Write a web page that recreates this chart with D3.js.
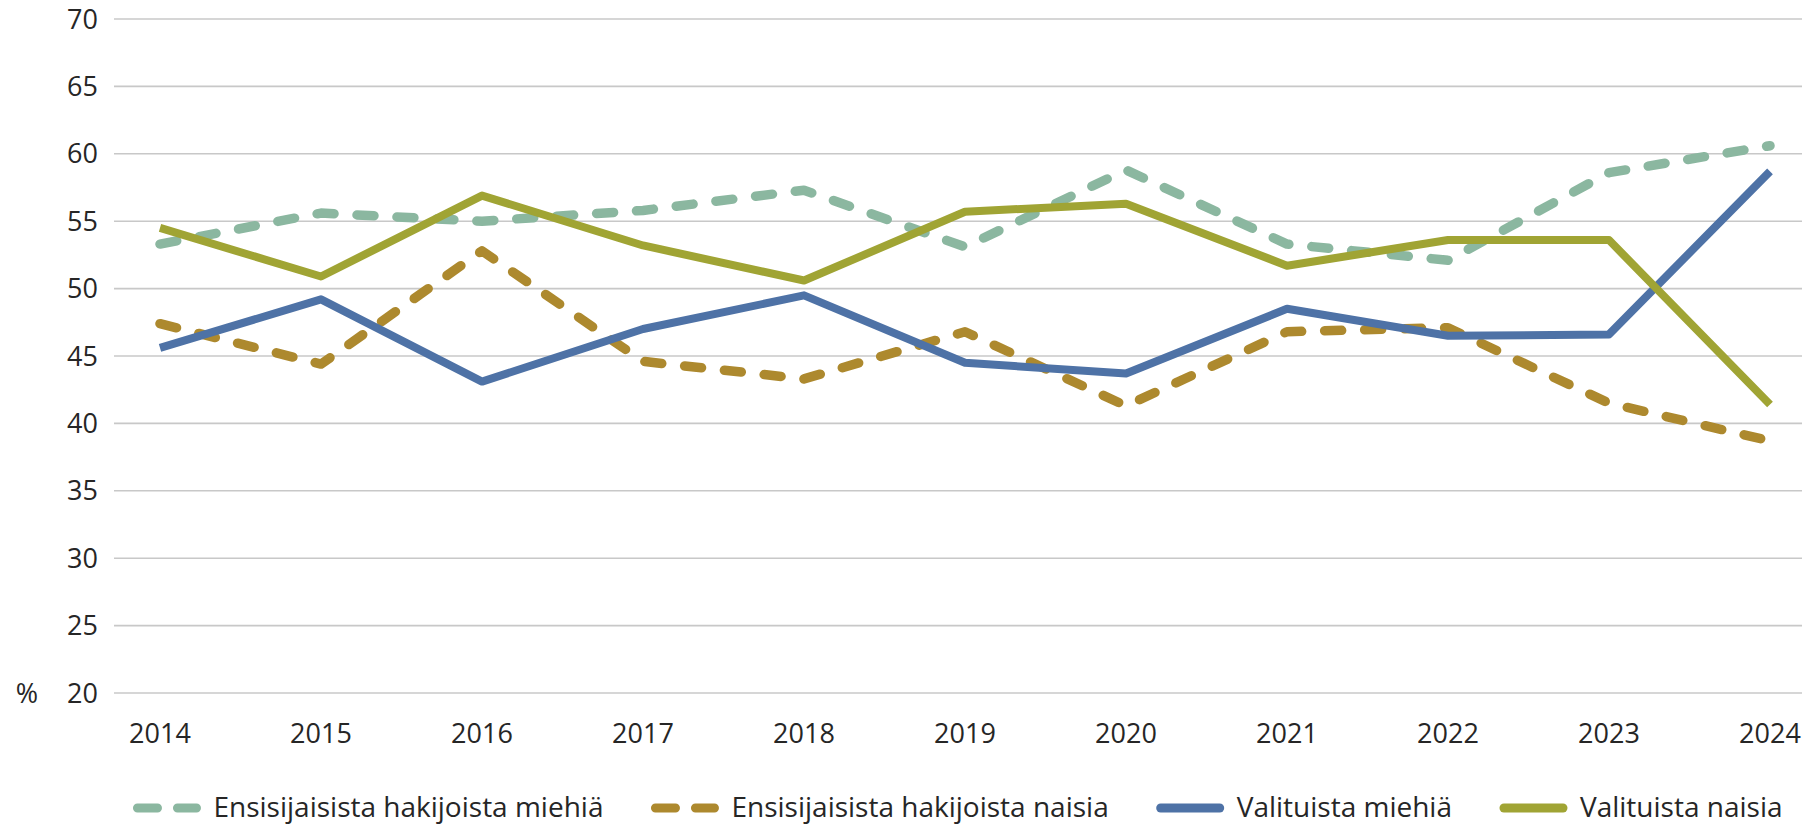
<!DOCTYPE html>
<html>
<head>
<meta charset="utf-8">
<script src="https://cdn.jsdelivr.net/npm/d3@7"></script>
<style>
  body { margin: 0; background: #fff; }
  text { font-family: "Open Sans", sans-serif; fill: #262626; }
</style>
</head>
<body>
<div class="chart"></div>
<script>
const years = ['2014', '2015', '2016', '2017', '2018', '2019', '2020', '2021', '2022', '2023', '2024']
const seriesNames = [
    'Ensisijaisista hakijoista miehiä',
    'Ensisijaisista hakijoista naisia',
    'Valituista miehiä',
    'Valituista naisia'
]
const applicantsMen = [53.3, 55.6, 55.0, 55.8, 57.3, 53.1, 58.8, 53.3, 52.1, 58.6, 60.6]
const applicantsWomen = [47.4, 44.4, 52.8, 44.6, 43.3, 46.8, 41.3, 46.8, 47.1, 41.5, 38.7]
const selectedMen = [45.6, 49.2, 43.1, 47.0, 49.5, 44.5, 43.7, 48.5, 46.5, 46.6, 58.7]
const selectedWomen = [54.5, 50.9, 56.9, 53.2, 50.6, 55.7, 56.3, 51.7, 53.6, 53.6, 41.4]
const yTicks = [20, 25, 30, 35, 40, 45, 50, 55, 60, 65, 70]

const colors = ['#8bb7a0', '#ad892e', '#4e72a6', '#a0a434']
const dashed = [true, true, false, false]
const allValues = [applicantsMen, applicantsWomen, selectedMen, selectedWomen]

const width = 1811, height = 827
const gridLeft = 114, gridRight = 1802

const svg = d3.select('.chart').append('svg')
    .attr('width', width)
    .attr('height', height)

const x = d3.scalePoint().domain(years).range([160, 1770])
const y = d3.scaleLinear().domain([20, 70]).range([693, 19])

// grid
svg.append('g')
    .selectAll('line')
    .data(yTicks)
    .enter()
    .append('line')
    .attr('x1', gridLeft)
    .attr('x2', gridRight)
    .attr('y1', d => y(d))
    .attr('y2', d => y(d))
    .style('stroke', '#c8c8c8')
    .style('stroke-width', 1.6)

// y labels
svg.append('g')
    .selectAll('text')
    .data(yTicks)
    .enter()
    .append('text')
    .attr('x', 98)
    .attr('y', d => y(d) + 9.5)
    .attr('text-anchor', 'end')
    .style('font-size', '27px')
    .text(d => d)

svg.append('text')
    .attr('x', 27)
    .attr('y', y(20) + 9.5)
    .attr('text-anchor', 'middle')
    .style('font-size', '27px')
    .text('%')

// x labels
svg.append('g')
    .selectAll('text')
    .data(years)
    .enter()
    .append('text')
    .attr('x', d => x(d))
    .attr('y', 743)
    .attr('text-anchor', 'middle')
    .style('font-size', '27px')
    .text(d => d)

// lines
const line = d3.line()
    .x((d, i) => x(years[i]))
    .y(d => y(d))

svg.append('g')
    .selectAll('path')
    .data(allValues)
    .enter()
    .append('path')
    .attr('d', d => line(d))
    .style('fill', 'none')
    .style('stroke', (d, i) => colors[i])
    .style('stroke-width', (d, i) => dashed[i] ? 9.5 : 8)
    .style('stroke-linecap', (d, i) => dashed[i] ? 'round' : 'butt')
    .style('stroke-linejoin', 'round')
    .style('stroke-dasharray', (d, i) => dashed[i] ? '17,23' : null)

// legend
const legend = svg.append('g')
const items = legend.selectAll('g')
    .data(seriesNames)
    .enter()
    .append('g')

items.append('line')
    .attr('x1', 4)
    .attr('x2', 63)
    .attr('y1', 0)
    .attr('y2', 0)
    .style('stroke', (d, i) => colors[i])
    .style('stroke-width', 9)
    .style('stroke-linecap', 'round')
    .style('stroke-dasharray', (d, i) => dashed[i] ? '20,20' : null)

items.append('text')
    .attr('x', 80)
    .attr('y', 9)
    .style('font-size', '28px')
    .text(d => d)

const gap = 48
let offset = 0
const widths = []
items.each(function () {
    widths.push(80 + this.querySelector('text').getComputedTextLength())
})
const total = d3.sum(widths) + gap * (widths.length - 1)
const start = (gridLeft + gridRight) / 2 - total / 2
items.attr('transform', (d, i) => {
    const t = `translate(${start + offset},808)`
    offset += widths[i] + gap
    return t
})
</script>
</body>
</html>
